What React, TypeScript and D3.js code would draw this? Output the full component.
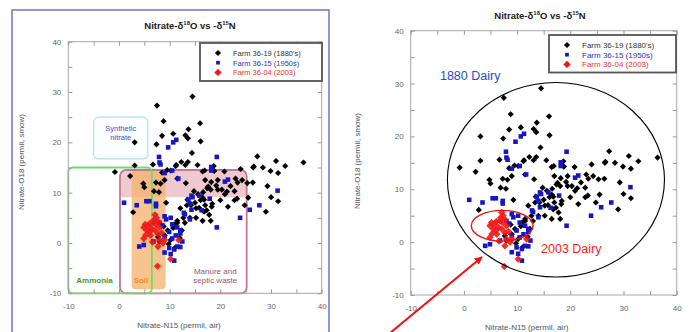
import React, { useRef, useEffect } from 'react';
import * as d3 from 'd3';

// Farm 36-19 (1880's): [delta15N, delta18O]
const farm1880: [number, number][] = [
  [14.5, 29.1], [7.5, 27.3], [8.8, 24.2], [8.5, 21.3], [7.4, 19.6], [3.1, 20.0], [10.7, 21.7], [13.1, 21.4],
  [13.6, 20.8], [13.7, 22.6], [16.0, 23.8], [16.1, 20.2], [14.4, 17.9], [6.7, 15.6], [3.1, 15.4], [13.6, 16.1],
  [12.3, 16.1], [11.2, 15.3], [9.5, 14.5], [8.5, 14.0], [16.9, 14.4], [16.5, 14.2], [24.0, 14.7], [26.5, 15.0],
  [28.4, 15.0], [27.3, 17.2], [31.0, 16.3], [32.8, 15.3], [36.4, 16.0], [-0.8, 14.1],
  [2.2, 13.3], [4.8, 11.8], [5.0, 11.1], [7.3, 12.0], [8.2, 11.8], [6.9, 10.3], [7.9, 10.1], [10.2, 14.4],
  [13.2, 11.9], [14.8, 10.3], [9.3, 8.0], [16.6, 10.1], [17.6, 11.2], [18.1, 10.6], [19.2, 11.4], [19.5, 10.6],
  [20.3, 10.6], [20.9, 9.7], [22.8, 10.3], [23.4, 12.0], [25.3, 11.9], [26.4, 12.0], [29.3, 11.3], [30.0, 9.1],
  [31.4, 8.3], [16.1, 8.5], [16.8, 8.6], [18.4, 7.8], [18.3, 7.2], [21.5, 7.2], [22.8, 8.5], [23.3, 8.8],
  [24.8, 7.5], [29.0, 6.2], [15.2, 6.9], [16.8, 6.2], [17.8, 5.6], [18.1, 4.4], [16.5, 4.4], [15.2, 5.0],
  [2.8, 6.1], [11.5, 4.4], [12.7, 5.0], [12.4, 2.5], [15.5, 15.5], [13.1, 15.5], [11.3, 15.5], [18.8, 14.3],
  [20.8, 14.2], [24.3, 12.5], [26.6, 15.2], [29.9, 14.3], [31.4, 13.9],
  [11.5, 12.8], [15.6, 9.7], [17.4, 10.9], [18.7, 15.3], [12.1, 6.9], [13.4, 7.5], [9.0, 12.5],
  [7.7, 1.2], [9.0, 1.5], [9.6, 2.5], [10.2, 0.6], [10.9, 3.7], [11.5, 4.0], [8.0, 0.3], [11.0, -1.0],
  [9.8, -0.2], [10.7, 3.0], [12.0, 1.0], [8.8, 3.3],
  [13.5, 8.6], [14.2, 7.5], [15.0, 8.0], [15.8, 7.0], [17.0, 7.5], [16.5, 9.0], [17.3, 6.5], [14.0, 5.0],
  [13.0, 4.0], [19.5, 12.5], [18.2, 12.1], [21.3, 10.2], [22.0, 11.3], [17.0, 12.5], [20.0, 8.5], [23.0, 12.8],
  [25.5, 9.0],
];

// Farm 36-15 (1950s)
const farm1950: [number, number][] = [
  [11.3, 20.5], [10.7, 20.0], [9.7, 19.0], [7.9, 17.1], [8.0, 16.0], [19.3, 17.1], [18.2, 15.1], [18.2, 14.4],
  [8.2, 15.6], [9.0, 13.9], [11.7, 12.8], [21.5, 12.6], [20.9, 12.2], [31.3, 10.4], [15.9, 9.4], [14.5, 9.1],
  [14.0, 7.8], [17.9, 8.8], [25.8, 6.6], [27.7, 7.5], [1.0, 8.0], [3.5, 7.5], [5.4, 8.3], [6.0, 8.3],
  [7.3, 7.8], [7.3, 7.3], [14.3, 6.6], [14.0, 4.7], [19.3, 3.1], [23.9, 5.0], [9.0, 5.3], [10.2, 5.0],
  [9.3, 4.7], [10.5, 3.7], [11.5, 3.1], [12.1, 2.5], [9.9, 2.2], [9.0, 1.2], [10.5, 0.9], [12.1, 1.9],
  [6.8, 0.3], [4.0, -0.7], [4.9, -0.4], [9.9, -1.0], [10.9, -1.3], [11.5, -0.7], [12.1, -0.8], [9.0, -1.9],
  [10.2, -2.2], [10.9, -3.5], [13.7, 8.6], [10.5, 14.4], [13.0, 5.7], [8.5, 3.5], [8.0, 4.0], [11.2, 1.5],
  [12.5, 0.3], [16.3, 6.5], [14.3, 9.4], [12.8, 6.0],
];

// Farm 36-04 (2003)
const farm2003: [number, number][] = [
  [7.1, 5.6], [7.4, 5.0], [5.2, 3.7], [4.9, 3.1], [5.8, 3.4], [6.5, 2.8], [7.1, 2.5], [8.0, 3.1],
  [7.7, 1.8], [6.2, 1.5], [4.9, 0.9], [8.0, 0.6], [9.0, 0.6], [7.7, -0.7], [11.8, 0.6], [10.2, -3.2],
  [7.6, -4.6], [6.0, 2.2], [5.5, 2.5], [6.8, 4.0], [7.3, 3.7], [6.6, 0.2], [8.4, 2.0], [5.3, 1.6],
  [6.9, 4.6], [7.8, 4.2], [6.1, 3.9], [8.7, 0.0],
];

const legendLabels = ["Farm 36-19 (1880's)", 'Farm 36-15 (1950s)', 'Farm 36-04 (2003)'];
const axisTicks = [-10, 0, 10, 20, 30, 40];
const minorTicks = d3.range(-10, 41, 5);

// source regions in data units: [x0, x1, y0, y1]
const synthetic = [-5, 5.7, 16.7, 25];
const ammonia = [-10, 6.5, -10, 15];
const soil = [2.5, 9.2, -9.2, 14.5];
const manure = [0.2, 25.2, -10, 14.5];
const manureShade = [0.2, 25.2, 9.1, 14.5];

// ellipses on the right chart: [cx, cy, rx, ry]
const dairy1880 = [17.3, 11.8, 20.4, 18.4];
const dairy2003 = [7.2, 3.1, 5.8, 2.9];
const arrowFromTo = [-13.9, -17.2, 3.4, -2.8];

const FONT = '"Liberation Sans", Arial, sans-serif';

const drawPanel = (svg: any, cfg: any) => {
  const x = d3.scaleLinear().domain([-10, 40]).range([cfg.left, cfg.right]);
  const y = d3.scaleLinear().domain([-10, 40]).range([cfg.bottom, cfg.top]);
  const g = svg.append('g').style('font-family', FONT);

  const box = (b: number[]) => ({ x: x(b[0]), y: y(b[3]), w: x(b[1]) - x(b[0]), h: y(b[2]) - y(b[3]) });

  if (cfg.sources) {
    const s = box(synthetic);
    g.append('rect').attr('x', s.x).attr('y', s.y).attr('width', s.w).attr('height', s.h)
      .attr('rx', 5).attr('fill', '#fbffff').attr('stroke', '#a8e4e4').attr('stroke-width', 1.2);
    const ms = box(manureShade);
    g.append('rect').attr('x', ms.x).attr('y', ms.y).attr('width', ms.w).attr('height', ms.h)
      .attr('rx', 4).attr('fill', '#eec9cd');
    const so = box(soil);
    g.append('rect').attr('x', so.x).attr('y', so.y).attr('width', so.w).attr('height', so.h)
      .attr('rx', 4).attr('fill', '#f5b473').attr('opacity', 0.8);
    const m = box(manure);
    g.append('rect').attr('x', m.x).attr('y', m.y).attr('width', m.w).attr('height', m.h)
      .attr('rx', 6).attr('fill', 'none').attr('stroke', '#c27a94').attr('stroke-width', 1.8);
    const a = box(ammonia);
    g.append('rect').attr('x', a.x).attr('y', a.y).attr('width', a.w).attr('height', a.h)
      .attr('rx', 5).attr('fill', 'none').attr('stroke', '#6fdc6f').attr('stroke-width', 1.8);

    g.append('text').attr('x', s.x + s.w / 2).attr('y', s.y + 14).attr('text-anchor', 'middle')
      .attr('font-size', 7.5).attr('fill', '#4a4ad0').text('Synthetic');
    g.append('text').attr('x', s.x + s.w / 2).attr('y', s.y + 23).attr('text-anchor', 'middle')
      .attr('font-size', 7.5).attr('fill', '#4a4ad0').text('nitrate');
    g.append('text').attr('x', a.x + 8).attr('y', cfg.bottom - 10).attr('font-size', 8)
      .attr('font-weight', 'bold').attr('fill', '#3c9a46').text('Ammonia');
    g.append('text').attr('x', so.x + 2).attr('y', cfg.bottom - 10).attr('font-size', 8)
      .attr('font-weight', 'bold').attr('fill', '#f08a28').text('Soil');
    g.append('text').attr('x', x(19)).attr('y', cfg.bottom - 19).attr('text-anchor', 'middle')
      .attr('font-size', 8).attr('fill', '#a0506e').text('Manure and');
    g.append('text').attr('x', x(19)).attr('y', cfg.bottom - 10).attr('text-anchor', 'middle')
      .attr('font-size', 8).attr('fill', '#a0506e').text('septic waste');
  }

  // frame
  g.append('rect').attr('x', cfg.left).attr('y', cfg.top)
    .attr('width', cfg.right - cfg.left).attr('height', cfg.bottom - cfg.top)
    .attr('fill', 'none').attr('stroke', '#a8a8a8').attr('stroke-width', 1);

  const fmt = (d: any) => (axisTicks.includes(d) ? String(d) : '');
  const styleAxis = (sel: any) => {
    sel.select('.domain').remove();
    sel.selectAll('line').attr('stroke', '#999');
    sel.selectAll('text').attr('fill', '#666').style('font-size', '8px').style('font-family', FONT);
  };
  g.append('g').attr('transform', `translate(0,${cfg.bottom})`)
    .call(d3.axisBottom(x).tickValues(minorTicks).tickSize(-4).tickPadding(10).tickFormat(fmt)).call(styleAxis);
  g.append('g').attr('transform', `translate(0,${cfg.top})`)
    .call(d3.axisTop(x).tickValues(minorTicks).tickSize(-4).tickFormat(() => '')).call(styleAxis);
  g.append('g').attr('transform', `translate(${cfg.left},0)`)
    .call(d3.axisLeft(y).tickValues(minorTicks).tickSize(-4).tickPadding(7).tickFormat(fmt)).call(styleAxis);
  g.append('g').attr('transform', `translate(${cfg.right},0)`)
    .call(d3.axisRight(y).tickValues(minorTicks).tickSize(-4).tickFormat(() => '')).call(styleAxis);

  // axis labels
  g.append('text').attr('x', (cfg.left + cfg.right) / 2 - cfg.xLabelShift).attr('y', cfg.bottom + 35)
    .attr('text-anchor', 'middle').attr('font-size', 8).attr('fill', '#555').text('Nitrate-N15 (permil, air)');
  g.append('text').attr('transform', `translate(${cfg.yLabelX},${cfg.yLabelY}) rotate(-90)`)
    .attr('text-anchor', 'middle').attr('font-size', 8).attr('fill', '#555').text('Nitrate-O18 (permil, smow)');

  // title
  const t = g.append('text').attr('x', cfg.titleX).attr('y', cfg.titleY).attr('text-anchor', 'middle')
    .attr('font-size', 9.5).attr('font-weight', 'bold').attr('fill', '#222');
  t.append('tspan').text('Nitrate-\u03b4');
  t.append('tspan').attr('font-size', 6).attr('dy', -4).text('18');
  t.append('tspan').attr('dy', 4).text('O vs -\u03b4');
  t.append('tspan').attr('font-size', 6).attr('dy', -4).text('15');
  t.append('tspan').attr('dy', 4).text('N');

  // points: black and red as rotated squares (diamonds), blue as squares
  const sq = d3.symbol().type(d3.symbolSquare);
  const blackShape = sq.size(19)();
  const blueShape = sq.size(21)();
  const redShape = sq.size(27)();
  g.append('g').selectAll('path').data(farm1880).join('path')
    .attr('transform', (d: any) => `translate(${x(d[0])},${y(d[1])}) rotate(45)`)
    .attr('d', blackShape).attr('fill', '#000');
  g.append('g').selectAll('path').data(farm1950).join('path')
    .attr('transform', (d: any) => `translate(${x(d[0])},${y(d[1])})`)
    .attr('d', blueShape).attr('fill', '#1616c8');
  g.append('g').selectAll('path').data(farm2003).join('path')
    .attr('transform', (d: any) => `translate(${x(d[0])},${y(d[1])}) rotate(45)`)
    .attr('d', redShape).attr('fill', '#f01818').attr('opacity', 0.9);

  if (cfg.ellipses) {
    g.append('ellipse').attr('cx', x(dairy1880[0])).attr('cy', y(dairy1880[1]))
      .attr('rx', x(dairy1880[2]) - x(0)).attr('ry', y(0) - y(dairy1880[3]))
      .attr('fill', 'none').attr('stroke', '#000').attr('stroke-width', 1.1);
    g.append('ellipse').attr('cx', x(dairy2003[0])).attr('cy', y(dairy2003[1]))
      .attr('rx', x(dairy2003[2]) - x(0)).attr('ry', y(0) - y(dairy2003[3]))
      .attr('fill', 'none').attr('stroke', '#ee1111').attr('stroke-width', 1.4);
    g.append('text').attr('x', x(-4.5)).attr('y', y(30.6)).attr('font-size', 12.5).attr('fill', '#1f4fc8').text('1880 Dairy');
    g.append('text').attr('x', x(14.5)).attr('y', y(-2.1)).attr('font-size', 12.5).attr('fill', '#ff1a1a').text('2003 Dairy');
    g.append('line')
      .attr('x1', x(arrowFromTo[0])).attr('y1', y(arrowFromTo[1]))
      .attr('x2', x(arrowFromTo[2])).attr('y2', y(arrowFromTo[3]))
      .attr('stroke', '#ee1111').attr('stroke-width', 2).attr('marker-end', 'url(#arrowRed)');
  }

  // legend
  const lg = g.append('g');
  lg.append('rect').attr('x', cfg.legend.x).attr('y', cfg.legend.y).attr('width', cfg.legend.w).attr('height', cfg.legend.h)
    .attr('fill', '#fff').attr('stroke', '#555').attr('stroke-width', 1.8);
  const colors = ['#000', '#1616c8', '#f01818'];
  const textColors = ['#333', '#3030d0', '#f03030'];
  const shapes = [blackShape, sq.size(14)(), redShape];
  const rot = [45, 0, 45];
  legendLabels.forEach((label, i) => {
    const cy = cfg.legend.y + 10 + i * cfg.legend.step;
    lg.append('path').attr('transform', `translate(${cfg.legend.x + 18},${cy}) rotate(${rot[i]})`)
      .attr('d', shapes[i]).attr('fill', colors[i]);
    lg.append('text').attr('x', cfg.legend.x + 33).attr('y', cy + 3).attr('font-size', cfg.legend.font)
      .attr('fill', textColors[i]).text(label);
  });
};

const App = () => {
  const svgRef = useRef<SVGSVGElement>(null);

  useEffect(() => {
    const svg = d3.select(svgRef.current);
    svg.selectAll('*').remove();

    svg.append('defs').append('marker').attr('id', 'arrowRed')
      .attr('viewBox', '0 0 10 10').attr('refX', 9).attr('refY', 5)
      .attr('markerWidth', 4).attr('markerHeight', 4).attr('orient', 'auto')
      .append('path').attr('d', 'M0,0 L10,5 L0,10 z').attr('fill', '#ee1111');

    // left panel frame
    svg.append('rect').attr('x', 12).attr('y', 10).attr('width', 317).attr('height', 340)
      .attr('fill', 'none').attr('stroke', '#7b7bc6').attr('stroke-width', 1.6);

    drawPanel(svg, {
      left: 68.3, right: 321.7, top: 41.7, bottom: 293.3,
      titleX: 190, titleY: 28.5, xLabelShift: 16, yLabelX: 24, yLabelY: 162,
      legend: { x: 200, y: 43, w: 122, h: 38, step: 9.7, font: 7.5 },
      sources: true, ellipses: false,
    });
    drawPanel(svg, {
      left: 410.7, right: 676.7, top: 30.7, bottom: 295,
      titleX: 540, titleY: 18.5, xLabelShift: 17, yLabelX: 360, yLabelY: 161,
      legend: { x: 549, y: 35, w: 127, h: 37.5, step: 9.7, font: 8 },
      sources: false, ellipses: true,
    });
  }, []);

  return (
    <svg ref={svgRef} width={695} height={332}
      style={{ position: 'absolute', left: 0, top: 0, background: '#fff' }} />
  );
};

export default App;
